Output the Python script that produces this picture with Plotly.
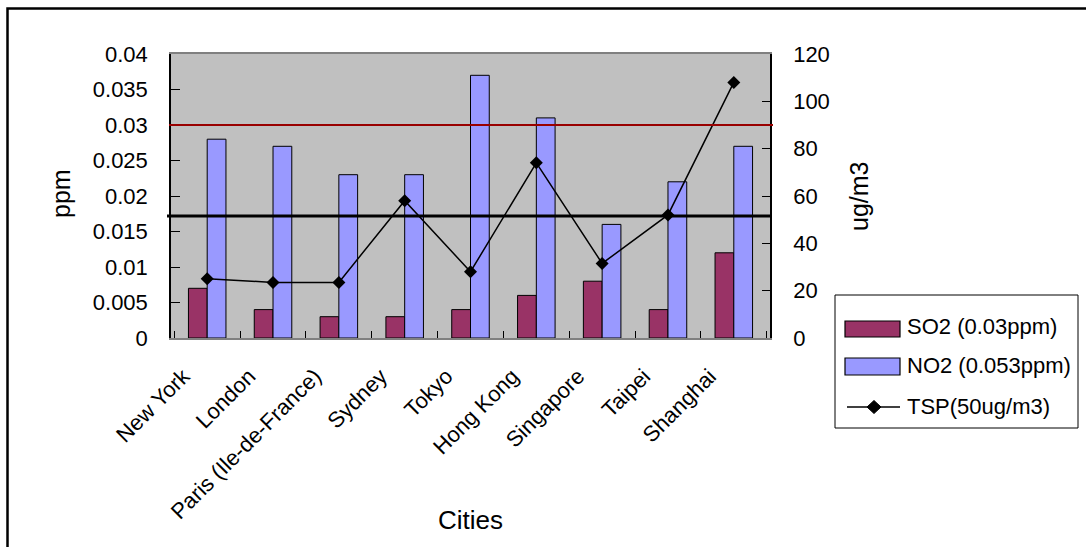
import plotly.graph_objects as go

cities = ["New York", "London", "Paris (Ile-de-France)", "Sydney", "Tokyo",
          "Hong Kong", "Singapore", "Taipei", "Shanghai"]
so2 = [0.007, 0.004, 0.003, 0.003, 0.004, 0.006, 0.008, 0.004, 0.012]
no2 = [0.028, 0.027, 0.023, 0.023, 0.037, 0.031, 0.016, 0.022, 0.027]
tsp = [25, 23.5, 23.5, 58, 28, 74, 31.5, 52, 108]
so2_limit = 0.03
tsp_line = 51.5

left_ticks = [0, 0.005, 0.01, 0.015, 0.02, 0.025, 0.03, 0.035, 0.04]
left_text = ["0", "0.005", "0.01", "0.015", "0.02", "0.025", "0.03", "0.035", "0.04"]
right_ticks = [0, 20, 40, 60, 80, 100, 120]

series_names = ["SO2 (0.03ppm)", "NO2 (0.053ppm)", "TSP(50ug/m3)"]
SO2_COLOR = "#993366"
NO2_COLOR = "#9999FF"

FONT = "Liberation Sans, Arial, sans-serif"

# plot-area geometry (pixels) used to convert legend positions to paper units
L, R, T, B = 171, 770, 54, 338
W, H = 1086, 547


def px(x):
    return (x - L) / (R - L)


def py(y):
    return (B - y) / (B - T)


fig = go.Figure()
fig.add_trace(go.Bar(x=cities, y=so2, name=series_names[0],
                     marker=dict(color=SO2_COLOR, line=dict(color="black", width=1))))
fig.add_trace(go.Bar(x=cities, y=no2, name=series_names[1],
                     marker=dict(color=NO2_COLOR, line=dict(color="black", width=1))))
fig.add_trace(go.Scatter(x=cities, y=tsp, name=series_names[2], yaxis="y2",
                         mode="lines+markers",
                         line=dict(color="black", width=1.5),
                         marker=dict(symbol="diamond", size=10, color="black")))

shapes = [
    dict(type="line", xref="paper", yref="y", x0=px(169), x1=px(773),
         y0=so2_limit, y1=so2_limit, line=dict(color="#990000", width=2)),
    dict(type="line", xref="paper", yref="y2", x0=px(167), x1=px(772),
         y0=tsp_line, y1=tsp_line, line=dict(color="black", width=3)),
    # outer chart frame
    dict(type="rect", xref="paper", yref="paper", x0=px(7.5), x1=px(1110),
         y0=py(570), y1=py(8.5), line=dict(color="black", width=2.5),
         fillcolor="rgba(0,0,0,0)", layer="above"),
    # legend box
    dict(type="rect", xref="paper", yref="paper", x0=px(835), x1=px(1078),
         y0=py(428), y1=py(295), line=dict(color="black", width=1),
         fillcolor="white"),
    dict(type="rect", xref="paper", yref="paper", x0=px(845), x1=px(900),
         y0=py(337), y1=py(321), line=dict(color="black", width=1.2),
         fillcolor=SO2_COLOR),
    dict(type="rect", xref="paper", yref="paper", x0=px(845), x1=px(900),
         y0=py(375), y1=py(358), line=dict(color="black", width=1.2),
         fillcolor=NO2_COLOR),
    dict(type="line", xref="paper", yref="paper", x0=px(847), x1=px(900),
         y0=py(407), y1=py(407), line=dict(color="black", width=1.5)),
    dict(type="path", xref="paper", yref="paper",
         path="M {a},{b} L {c},{d} L {e},{b} L {c},{f} Z".format(
             a=px(867), b=py(407), c=px(874), d=py(400.5), e=px(881), f=py(413.5)),
         line=dict(color="black", width=1), fillcolor="black"),
]

annotations = [
    dict(text="ppm", xref="paper", yref="paper", x=px(61), y=py(194),
         showarrow=False, textangle=-90, font=dict(size=25),
         xanchor="center", yanchor="middle"),
    dict(text="ug/m3", xref="paper", yref="paper", x=px(859), y=py(197),
         showarrow=False, textangle=-90, font=dict(size=25),
         xanchor="center", yanchor="middle"),
    dict(text="Cities", xref="paper", yref="paper", x=px(470), y=py(520),
         showarrow=False, font=dict(size=26),
         xanchor="center", yanchor="middle"),
]
for name, yc in zip(series_names, [326, 365, 406]):
    annotations.append(dict(text=name, xref="paper", yref="paper", x=px(905), y=py(yc),
                            showarrow=False, font=dict(size=22),
                            xanchor="left", yanchor="middle"))

fig.update_layout(
    width=W, height=H,
    margin=dict(l=L, r=W - R, t=T, b=H - B),
    paper_bgcolor="white", plot_bgcolor="#C0C0C0",
    font=dict(family=FONT, size=22, color="black"),
    barmode="group", bargap=0.43, bargroupgap=0,
    showlegend=False,
    xaxis=dict(type="category", showline=True, linecolor="#808080", linewidth=1.5,
               mirror=True, ticks="inside", tickson="boundaries", ticklen=7,
               tickcolor="black", tickangle=-45, tickfont=dict(size=22),
               showgrid=False, ticklabelstandoff=15, ticklabelshift=-24),
    yaxis=dict(range=[0, 0.04], tickvals=left_ticks, ticktext=left_text,
               showline=True, linecolor="black", linewidth=1.5,
               ticks="inside", ticklen=9, tickcolor="black", showgrid=False,
               zeroline=False, ticklabelstandoff=17, tickfont=dict(size=22)),
    yaxis2=dict(range=[0, 120], tickvals=right_ticks, overlaying="y", side="right",
                showline=True, linecolor="black", linewidth=1.5,
                ticks="inside", ticklen=8, tickcolor="black", showgrid=False,
                zeroline=False, ticklabelstandoff=17, tickfont=dict(size=22)),
    shapes=shapes,
    annotations=annotations,
)

fig.write_html("out.html", config={"displayModeBar": False},
               post_script="document.body.style.margin='0px';"
                           "document.body.style.overflow='hidden';")
